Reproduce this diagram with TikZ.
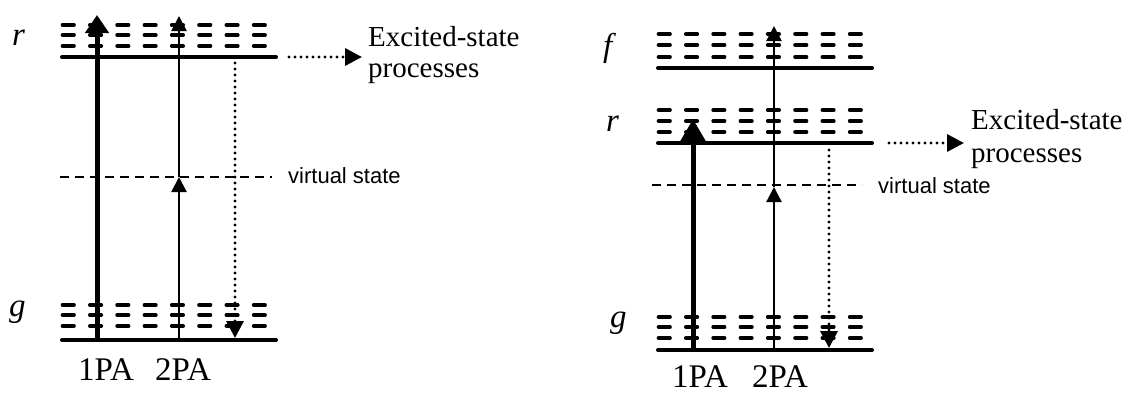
\documentclass[tikz,border=0pt]{standalone}
\usepackage{fontspec}
\setmainfont{Liberation Serif}
\newfontfamily\sansf{Liberation Sans}
\usetikzlibrary{arrows.meta}
\tikzset{
  subl/.style={line width=3.6pt, line cap=round},
  lvl/.style={line width=4pt, line cap=round},
  vline/.style={line width=2pt, dash pattern=on 9pt off 6pt},
  thickarr/.style={line width=5pt, -{Triangle[length=18pt,width=23pt]}},
  thinarr/.style={line width=2.3pt, -{Triangle[length=15pt,width=15pt]}},
  dotarr/.style={line width=3.4pt, line cap=round, dash pattern=on 0pt off 6pt, -{Triangle[length=17pt,width=17pt]}},
  lab/.style={anchor=base west, inner sep=0pt, font=\fontsize{33}{36}\selectfont\itshape},
  txt/.style={anchor=base west, inner sep=0pt, font=\fontsize{29}{33}\selectfont},
  pa/.style={anchor=base west, inner sep=0pt, text depth=0pt, font=\fontsize{33}{36}\selectfont},
  vtxt/.style={anchor=base west, inner sep=0pt, font=\sansf\fontsize{22}{24}\selectfont}
}
\begin{document}
\begin{tikzpicture}[x=1pt,y=-1pt]
\useasboundingbox (0,0) rectangle (1124,392);
% sublevel dashes and level lines
\foreach \bx/\ya/\yb/\yc/\ys in {61/25/35/46/57, 61/305/315/326/340, 657/34/45/57/68, 657/110/121/132/143, 657/317/327/338/350} {
  \foreach \i in {0,...,7} {
    \foreach \yy in {\ya,\yb,\yc} {
      \draw[subl] (\bx+1.5+27.3*\i,\yy) -- ++(11.5,0);
    }
  }
  \draw[lvl] (\bx+1,\ys) -- ++(214,0);
}
% virtual states
\coordinate (LvA) at (60,177);  \coordinate (LvB) at (272,177);
\coordinate (RvA) at (652,185); \coordinate (RvB) at (862,185);
\draw[vline] (LvA) -- (LvB);
\draw[vline] (RvA) -- (RvB);
% left coordinates
\coordinate (L1g) at (97,340);  \coordinate (L1t) at (97,15);
\coordinate (L2g) at (179,340); \coordinate (L2v) at (179,177); \coordinate (L2t) at (179,16);
\coordinate (LdA) at (235,63);  \coordinate (LdB) at (235,338);
\coordinate (LeA) at (289,57);  \coordinate (LeB) at (362,57);
% right coordinates
\coordinate (R1g) at (693,350); \coordinate (R1t) at (693,119);
\coordinate (R2g) at (774,350); \coordinate (R2v) at (774,187); \coordinate (R2t) at (774,26);
\coordinate (RdA) at (829,150); \coordinate (RdB) at (829,348);
\coordinate (ReA) at (889,143); \coordinate (ReB) at (964,143);
% arrows
\draw[thickarr] (L1g) -- (L1t);
\draw[thinarr] (L2g) -- (L2v);
\draw[thinarr] (L2v) -- (L2t);
\draw[dotarr] (LdA) -- (LdB);
\draw[dotarr] (LeA) -- (LeB);
\draw[thickarr, -{Triangle[length=22pt,width=24pt]}] (R1g) -- (R1t);
\draw[thinarr] (R2g) -- (R2v);
\draw[thinarr] (R2v) -- (R2t);
\draw[dotarr] (RdA) -- (RdB);
\draw[dotarr] (ReA) -- (ReB);
% labels
\node[lab] (Lr) at (12,45) {r};
\node[lab] (Lg) at (9,316) {g};
\node[lab] (Rf) at (603,56) {f};
\node[lab] (Rr) at (606,131) {r};
\node[lab] (Rg) at (610,327) {g};
\node[txt] (Lex1) at (368,46) {Excited-state};
\node[txt] (Lex2) at (368,77) {processes};
\node[txt] (Rex1) at (971,129) {Excited-state};
\node[txt] (Rex2) at (971,162) {processes};
\node[vtxt] (Lvt) at (288,183) {virtual state};
\node[vtxt] (Rvt) at (878,193) {virtual state};
\node[pa] (L1p) at (78,380) {1PA};
\node[pa] (L2p) at (155,380) {2PA};
\node[pa] (R1p) at (672,387) {1PA};
\node[pa] (R2p) at (752,387) {2PA};
\end{tikzpicture}
\end{document}
